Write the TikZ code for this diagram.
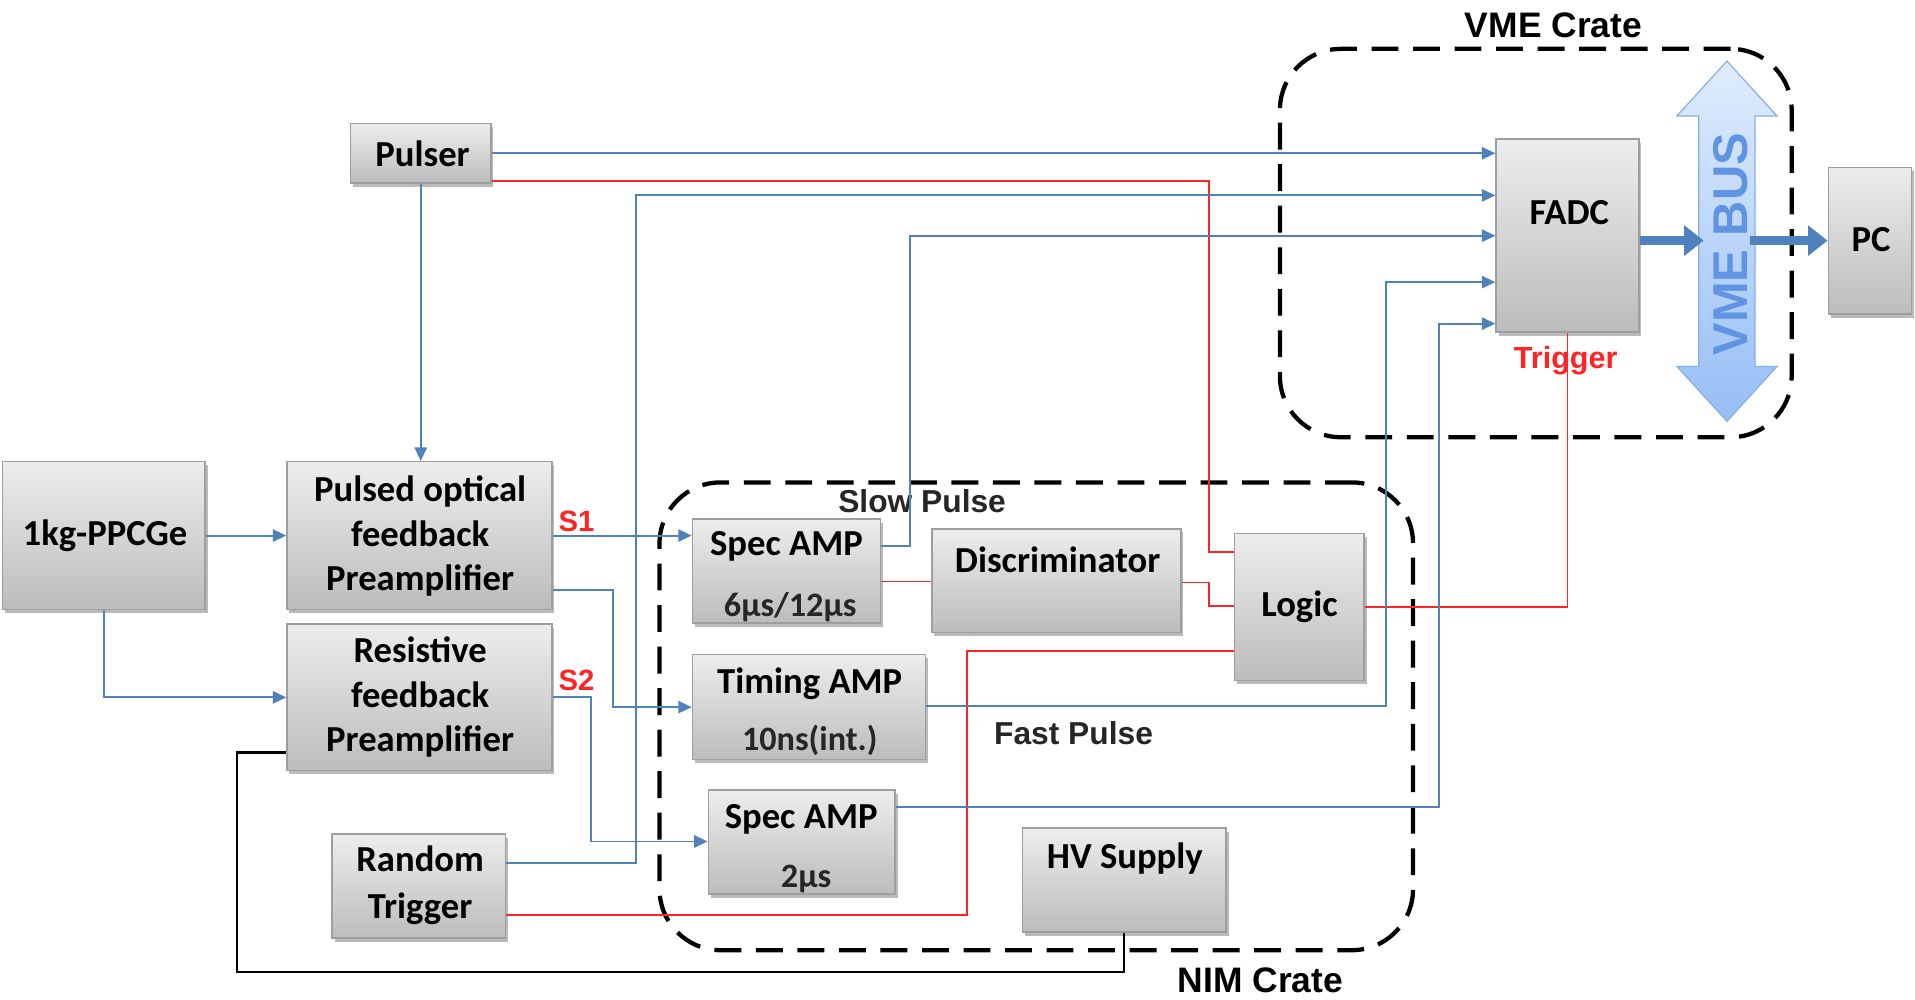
\documentclass[tikz,border=0pt]{standalone}
\usepackage{fontspec}
\setmainfont{Carlito}
\newfontfamily\arialf{Liberation Sans}
\usetikzlibrary{arrows.meta,shadows,fit,calc}
\definecolor{lnblue}{RGB}{79,129,189}
\definecolor{lnred}{RGB}{255,35,35}
\definecolor{boxtop}{RGB}{237,237,237}
\definecolor{boxbot}{RGB}{188,188,188}
\definecolor{boxedge}{RGB}{158,158,158}
\definecolor{bustop}{RGB}{224,236,252}
\definecolor{busbot}{RGB}{150,190,246}
\definecolor{busedge}{RGB}{135,175,228}
\definecolor{bustext}{RGB}{95,148,226}
\begin{document}
\begin{tikzpicture}[x=1pt,y=-1pt,
  box/.style={draw=boxedge, line width=1.2pt, top color=boxtop, bottom color=boxbot, inner sep=0pt,
    drop shadow={opacity=0.45, shadow xshift=2pt, shadow yshift=-3pt, fill=black!60}},
  lab/.style={font=\fontsize{30}{36.5}\selectfont\bfseries, inner sep=0pt, align=center},
  sublab/.style={font=\fontsize{28}{34}\selectfont\bfseries, inner sep=0pt, text=black!85},
  alab/.style={font=\arialf\bfseries\fontsize{26}{30}\selectfont, inner sep=0pt, text=black!85},
  clab/.style={font=\arialf\bfseries\fontsize{29}{32}\selectfont, inner sep=0pt},
  rlab/.style={font=\arialf\bfseries\fontsize{24}{28}\selectfont, inner sep=0pt, text=lnred},
  crate/.style={draw=black, line width=3.5pt, dash pattern=on 22pt off 12pt, rounded corners=50pt, inner sep=0pt},
  bl/.style={draw=lnblue, line width=1.6pt},
  arr/.style={-{Triangle[length=11pt,width=10pt]}},
  rd/.style={draw=lnred, line width=1.3pt},
  blk/.style={draw=black, line width=2pt},
  fat/.style={draw=lnblue, line width=8pt, -{Triangle[length=16pt,width=24pt]}}
]
\useasboundingbox (0,0) rectangle (1568,818);
\fill[white] (0,0) rectangle (1568,818);

% crates
\node[crate, fit={(1048,40) (1467,358)}] (vme) {};
\node[crate, fit={(540,395) (1157,778)}] (nim) {};
\node[clab] (vmelab) at (1272,21) {VME Crate};
\node[clab] (nimlab) at (1032,803) {NIM Crate};

% boxes
\node[box, fit={(287,101) (402,150)}] (pulser) {};
\node[box, fit={(2,378) (168,499)}] (ge) {};
\node[box, fit={(235,378) (452,499)}] (pof) {};
\node[box, fit={(235,511) (452,631)}] (res) {};
\node[box, fit={(272,683) (414,768)}] (rnd) {};
\node[box, fit={(567,425) (721,510)}] (spec1) {};
\node[box, fit={(763,433) (967,518)}] (disc) {};
\node[box, fit={(1011,437) (1117,557)}] (logic) {};
\node[box, fit={(567,536) (758,622)}] (timing) {};
\node[box, fit={(580,647) (733,732)}] (spec2) {};
\node[box, fit={(837,678) (1004,763)}] (hv) {};
\node[box, fit={(1225,114) (1342,272)}] (fadc) {};
\node[box, fit={(1497,137) (1565,257)}] (pc) {};

% box texts placed like the reference
\node[lab] (pulsert) at (346,126) {Pulser};
\node[lab] (get) at (86,439) {1kg-PPCGe};
\node[lab] (poft) at (344,439) {Pulsed optical\\feedback\\Preamplifier};
\node[lab] (rest) at (344,571) {Resistive\\feedback\\Preamplifier};
\node[lab, font=\fontsize{30}{38}\selectfont\bfseries] (rndt) at (344,725) {Random\\Trigger};
\node[lab] (logict) at (1064,497) {Logic};
\node[lab] (pct) at (1532,196) {PC};
\node[lab] (spec1t) at (644,447) {Spec AMP};
\node[sublab] (spec1s) at (647,497) {6µs/12µs};
\node[lab] (disct) at (866,458) {Discriminator};
\node[lab] (timingt) at (663,560) {Timing AMP};
\node[sublab] (timings) at (663,606) {10ns(int.)};
\node[lab] (spec2t) at (656,671) {Spec AMP};
\node[sublab] (spec2s) at (660,720) {2µs};
\node[lab] (hvt) at (921,703) {HV Supply};
\node[lab] (fadct) at (1285,174) {FADC};

% VME bus double arrow
\draw[busedge, line width=1pt, top color=bustop, bottom color=busbot]
  (1414,50) -- (1455,95) -- (1437,95) -- (1437,300) -- (1455,300) -- (1414,345)
  -- (1373,300) -- (1391,300) -- (1391,95) -- (1373,95) -- cycle;
\node[rotate=90, font=\arialf\bfseries\fontsize{40}{40}\selectfont, text=bustext, inner sep=0pt] (bus) at (1417,200) {VME BUS};
\coordinate (busL) at (1395,197);
\coordinate (busR) at (1433,197);
\draw[fat] (fadc.east |- busL) -- (busL);
\draw[fat] (busR) -- (pc.west |- busR);

% labels
\node[alab] (slow) at (755,410) {Slow Pulse};
\node[alab] (fast) at (879,600) {Fast Pulse};
\node[rlab] (s1) at (472,427) {S1};
\node[rlab] (s2) at (472,557) {S2};
\node[rlab, font=\arialf\bfseries\fontsize{25}{28}\selectfont] (trig) at (1282,295) {Trigger};

% connectors
\draw[bl,arr] (pulser.east) -- (fadc.west |- pulser.east);
\draw[rd] (pulser.east |- 0,148) -| (990,452) -- (logic.west |- 0,452);
\draw[bl,arr] (pulser.south) -- (pulser.south |- pof.north);
\draw[bl,arr] (ge.east) -- (pof.west);
\draw[bl,arr] (ge.south) |- (res.west);
\draw[bl,arr] (pof.east) -- (spec1.west |- pof.east);
\draw[bl,arr] (pof.east |- 0,483) -| (502,579) -- (timing.west |- 0,579);
\draw[bl,arr] (res.east) -| (484,689) -- (spec2.west |- 0,689);
\draw[bl,arr] (rnd.east |- 0,707) -| (521,160) -- (fadc.west |- 0,160);
\draw[rd] (rnd.east |- 0,749) -| (792,533) -- (logic.west |- 0,533);
\draw[bl,arr] (spec1.east |- 0,447) -| (745,193) -- (fadc.west |- 0,193);
\draw[rd] (spec1.east |- 0,476) -- (disc.west |- 0,476);
\draw[rd] (disc.east |- 0,477) -| (990,496) -- (logic.west |- 0,496);
\draw[rd] (logic.east |- 0,497) -| (fadc.south);
\draw[bl,arr] (timing.east |- 0,578) -| (1135,231) -- (fadc.west |- 0,231);
\draw[bl,arr] (spec2.east |- 0,661) -| (1178,265) -- (fadc.west |- 0,265);
\draw[blk] (res.west |- 0,616) -| (194,796) -| (hv.south);
\end{tikzpicture}
\end{document}
